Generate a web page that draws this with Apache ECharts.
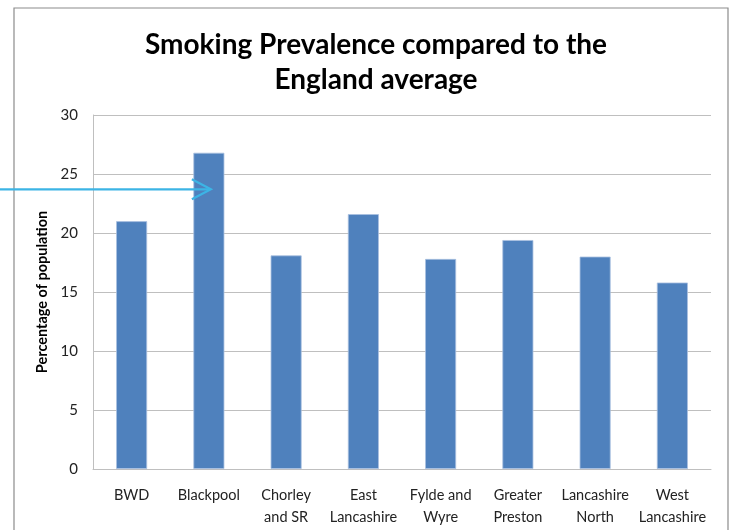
<!DOCTYPE html>
<html>
<head>
<meta charset="utf-8">
<script src="https://cdn.jsdelivr.net/npm/echarts@6/dist/echarts.min.js"></script>
<style>
html,body{margin:0;padding:0;background:#fff;}
#chart{width:732px;height:530px;}
</style>
</head>
<body>
<div id="chart"></div>
<script>
const categories = ['BWD', 'Blackpool', 'Chorley\nand SR', 'East\nLancashire', 'Fylde and\nWyre', 'Greater\nPreston', 'Lancashire\nNorth', 'West\nLancashire'];
const prevalence = [21.0, 26.8, 18.1, 21.6, 17.8, 19.4, 18.0, 15.8];
const englandAverage = 23.7;
const arrowTarget = 'Blackpool';
const yTicks = { min: 0, max: 30, interval: 5 };

const FONT = 'Lato, "Open Sans", sans-serif';
const chart = echarts.init(document.getElementById('chart'));
chart.setOption({
  backgroundColor: '#fff',
  animation: false,
  title: {
    text: 'Smoking Prevalence compared to the\nEngland average',
    left: 371, textAlign: 'center', top: 22,
    textStyle: { fontFamily: FONT, fontWeight: 'bold', fontSize: 28, color: '#000', lineHeight: 35 }
  },
  grid: { left: 93, right: 21, top: 115, bottom: 61 },
  xAxis: {
    type: 'category',
    data: categories,
    axisLine: { lineStyle: { color: '#BFBFBF', width: 1 } },
    axisTick: { show: false },
    axisLabel: { fontFamily: FONT, fontSize: 14.5, color: '#222', margin: 15, lineHeight: 22, interval: 0 }
  },
  yAxis: {
    type: 'value',
    min: yTicks.min, max: yTicks.max, interval: yTicks.interval,
    name: 'Percentage of population',
    nameLocation: 'middle', nameGap: 36,
    nameTextStyle: { fontFamily: FONT, fontWeight: 'bold', fontSize: 14.5, color: '#000' },
    axisLine: { show: true, lineStyle: { color: '#BFBFBF' } },
    axisTick: { show: false },
    axisLabel: { fontFamily: FONT, fontSize: 15, color: '#222', margin: 15 },
    splitLine: { lineStyle: { color: '#BFBFBF', width: 1 } }
  },
  series: [{
    type: 'bar',
    data: prevalence,
    barWidth: 31,
    itemStyle: { color: '#4F81BD', borderColor: '#A9C0DF', borderWidth: 0.8 }
  }]
});

// England average arrow and chart frame, positioned through the axis scales
const y = chart.convertToPixel({ yAxisIndex: 0 }, englandAverage);
const tipX = chart.convertToPixel({ xAxisIndex: 0 }, categories.indexOf(arrowTarget)) + 2;
const c = '#3CB4E5';
chart.setOption({
  graphic: [
    { type: 'rect', shape: { x: 14, y: 8, width: 714, height: 540 }, style: { fill: 'none', stroke: '#8C8C8C', lineWidth: 1.2 }, z: 0 },
    { type: 'line', shape: { x1: 0, y1: y, x2: tipX - 1, y2: y }, style: { stroke: c, lineWidth: 2.2 }, z: 10 },
    { type: 'polyline', shape: { points: [[tipX - 19, y - 10], [tipX, y], [tipX - 19, y + 10]] }, style: { stroke: c, lineWidth: 2.2, fill: 'none' }, z: 10 }
  ]
});
</script>
</body>
</html>
